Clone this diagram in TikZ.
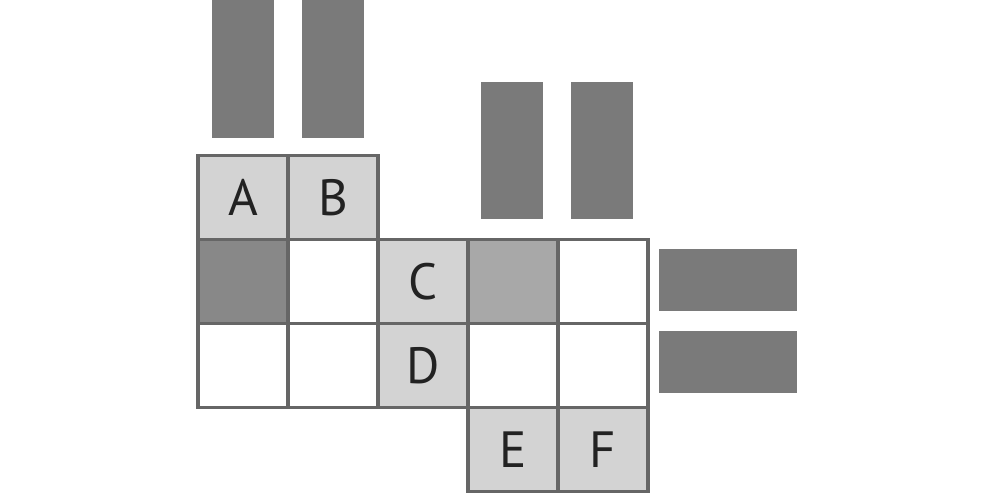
\documentclass[tikz,border=0pt]{standalone}
\usepackage{fontspec}
\setsansfont{PT Sans}
\definecolor{cellborder}{HTML}{666666}
\definecolor{cellletter}{HTML}{222222}
\definecolor{celllight}{HTML}{D3D3D3}
\definecolor{cellmid}{HTML}{A8A8A8}
\definecolor{celldark}{HTML}{888888}
\definecolor{barfill}{HTML}{7A7A7A}
\tikzset{
	cell/.style = {
		rectangle,
		draw=cellborder,
		line width=2pt,
		inner sep=0pt,
		minimum width=1.8cm,
		minimum height=1.68cm,
		text=cellletter,
		font=\sffamily\fontsize{29}{32}\selectfont
	},
	cell_w/.style = {
		cell,
		fill=white
	},
	cell_l/.style = {
		cell,
		fill=celllight
	},
	cell_m/.style = {
		cell,
		fill=cellmid
	},
	cell_d/.style = {
		cell,
		fill=celldark
	},
	bar_v/.style = {
		rectangle,
		fill=barfill,
		inner sep=0pt,
		minimum width=1.24cm,
		minimum height=2.76cm
	},
	bar_h/.style = {
		rectangle,
		fill=barfill,
		inner sep=0pt,
		minimum width=2.76cm,
		minimum height=1.24cm
	},
}

\begin{document}
\begin{tikzpicture}[x=0.02cm, y=-0.02cm]
\useasboundingbox (0,0) rectangle (990,495);
% bars above and to the right
\node [bar_v] (barA) at (243,69) {};
\node [bar_v] (barB) at (333,69) {};
\node [bar_v] (barE) at (512,150.5) {};
\node [bar_v] (barF) at (602,150.5) {};
\node [bar_h] (barR1) at (728,280) {};
\node [bar_h] (barR2) at (728,362) {};
% left block
\node [cell_l] (A) at (243,197.5) {A};
\node [cell_l] (B) at (333,197.5) {B};
\node [cell_d] (L21) at (243,281.5) {};
\node [cell_w] (L22) at (333,281.5) {};
\node [cell_w] (L31) at (243,365.5) {};
\node [cell_w] (L32) at (333,365.5) {};
% right block
\node [cell_l] (C) at (423,281.5) {C};
\node [cell_m] (R12) at (513,281.5) {};
\node [cell_w] (R13) at (603,281.5) {};
\node [cell_l] (D) at (423,365.5) {D};
\node [cell_w] (R22) at (513,365.5) {};
\node [cell_w] (R23) at (603,365.5) {};
\node [cell_l] (E) at (513,449.5) {E};
\node [cell_l] (F) at (603,449.5) {F};
\end{tikzpicture}
\end{document}
